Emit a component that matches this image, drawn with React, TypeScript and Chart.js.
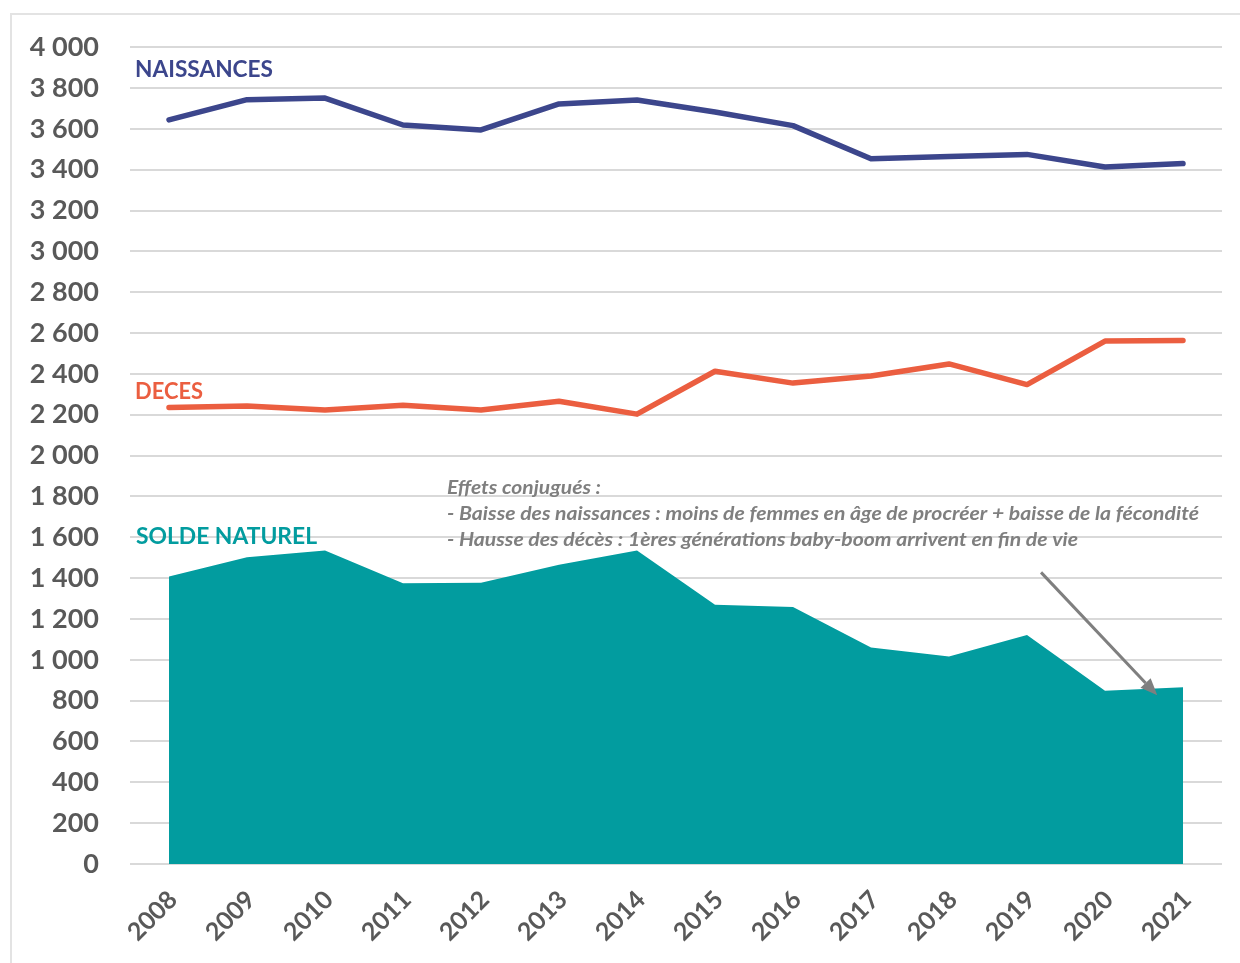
import React, { useEffect, useRef } from "react";
import { Chart, registerables } from "chart.js";

Chart.register(...registerables);

const years = ["2008", "2009", "2010", "2011", "2012", "2013", "2014", "2015", "2016", "2017", "2018", "2019", "2020", "2021"];
const naissances = [3644, 3743, 3751, 3619, 3595, 3722, 3741, 3683, 3616, 3454, 3465, 3475, 3413, 3430];
const deces = [2236, 2243, 2223, 2246, 2223, 2266, 2203, 2413, 2355, 2390, 2449, 2348, 2561, 2564];
const soldeNaturel = [1408, 1502, 1535, 1375, 1377, 1466, 1535, 1270, 1259, 1060, 1016, 1122, 849, 865];

const yMin = 0;
const yMax = 4000;
const yStep = 200;

const seriesNames = ["NAISSANCES", "DECES", "SOLDE NATUREL"];
const seriesLabelValues = [3888, 2313, 1604];
const noteLines = [
  "Effets conjugués :",
  "- Baisse des naissances : moins de femmes en âge de procréer + baisse de la fécondité",
  "- Hausse des décès : 1ères générations baby-boom arrivent en fin de vie",
];
const noteLineValues = [1843, 1716, 1589];
const arrowFrom = { index: 11.18, value: 1428 };
const arrowTo = { index: 12.67, value: 826 };

const COLORS = {
  naissances: "#3C468C",
  deces: "#EB5E40",
  solde: "#029C9F",
  grid: "#D9D9D9",
  tick: "#595959",
  note: "#7F7F7F",
};

function fitText(ctx: CanvasRenderingContext2D, text: string, x: number, y: number, width: number) {
  const w = ctx.measureText(text).width;
  ctx.save();
  ctx.translate(x, y);
  ctx.scale(width / w, 1);
  ctx.fillText(text, 0, 0);
  ctx.restore();
}

const annotationPlugin = {
  id: "annotations",
  afterDatasetsDraw(chart: any) {
    const { ctx, chartArea, scales } = chart;
    const xs = scales.x;
    const ys = scales.y;
    ctx.save();
    ctx.textBaseline = "middle";
    ctx.textAlign = "left";
    const labelColors = [COLORS.naissances, COLORS.deces, COLORS.solde];
    const labelWidths = [138, 68, 181];
    const labelOffsets = [5, 5, 6];
    ctx.font = "bold 22px Lato";
    seriesNames.forEach((name, i) => {
      ctx.fillStyle = labelColors[i];
      fitText(ctx, name, chartArea.left + labelOffsets[i], ys.getPixelForValue(seriesLabelValues[i]), labelWidths[i]);
    });
    ctx.font = "italic bold 19px Lato";
    ctx.fillStyle = COLORS.note;
    const noteWidths = [154, 752, 631];
    noteLines.forEach((line, i) => {
      fitText(ctx, line, chartArea.left + 317, ys.getPixelForValue(noteLineValues[i]), noteWidths[i]);
    });
    const x1 = xs.getPixelForValue(arrowFrom.index);
    const y1 = ys.getPixelForValue(arrowFrom.value);
    const x2 = xs.getPixelForValue(arrowTo.index);
    const y2 = ys.getPixelForValue(arrowTo.value);
    const ang = Math.atan2(y2 - y1, x2 - x1);
    const headLen = 17;
    const headHalf = 7;
    const bx = x2 - headLen * Math.cos(ang);
    const by = y2 - headLen * Math.sin(ang);
    ctx.strokeStyle = COLORS.note;
    ctx.lineWidth = 3;
    ctx.beginPath();
    ctx.moveTo(x1, y1);
    ctx.lineTo(bx, by);
    ctx.stroke();
    ctx.fillStyle = COLORS.note;
    ctx.beginPath();
    ctx.moveTo(x2, y2);
    ctx.lineTo(bx + headHalf * Math.sin(ang), by - headHalf * Math.cos(ang));
    ctx.lineTo(bx - headHalf * Math.sin(ang), by + headHalf * Math.cos(ang));
    ctx.closePath();
    ctx.fill();
    ctx.restore();
  },
};

function formatThousands(v: number) {
  return String(v).replace(/\B(?=(\d{3})+(?!\d))/g, " ");
}

export default function App() {
  const canvasRef = useRef<HTMLCanvasElement | null>(null);

  useEffect(() => {
    if (!canvasRef.current) return;
    const chart = new Chart(canvasRef.current, {
      type: "line",
      data: {
        labels: years,
        datasets: [
          {
            label: seriesNames[0],
            data: naissances,
            borderColor: COLORS.naissances,
            borderWidth: 5.5,
            pointRadius: 0,
            borderCapStyle: "round",
            borderJoinStyle: "round",
            fill: false,
            tension: 0,
            order: 1,
          },
          {
            label: seriesNames[1],
            data: deces,
            borderColor: COLORS.deces,
            borderWidth: 5.5,
            pointRadius: 0,
            borderCapStyle: "round",
            borderJoinStyle: "round",
            fill: false,
            tension: 0,
            order: 2,
          },
          {
            label: seriesNames[2],
            data: soldeNaturel,
            borderColor: COLORS.solde,
            backgroundColor: COLORS.solde,
            borderWidth: 0,
            pointRadius: 0,
            fill: "origin",
            tension: 0,
            order: 3,
          },
        ],
      },
      options: {
        animation: false,
        responsive: false,
        maintainAspectRatio: false,
        layout: { padding: { left: 10, right: 18, top: 46, bottom: 0 } },
        plugins: {
          legend: { display: false },
          tooltip: { enabled: false },
        },
        scales: {
          x: {
            type: "category",
            offset: true,
            grid: { display: false, drawTicks: false },
            border: { display: false },
            ticks: {
              color: COLORS.tick,
              font: { family: "Lato", size: 25, weight: "bold" },
              maxRotation: 45,
              minRotation: 45,
              padding: 21,
              labelOffset: 4,
              autoSkip: false,
            },
            afterFit: (s: any) => {
              s.height = 99;
            },
          },
          y: {
            min: yMin,
            max: yMax,
            grid: { color: COLORS.grid, lineWidth: 2, drawTicks: false },
            border: { display: false },
            ticks: {
              stepSize: yStep,
              color: COLORS.tick,
              font: { family: "Lato", size: 27, weight: "bold" },
              padding: 31,
              callback: (v: any) => formatThousands(Number(v)),
            },
            afterFit: (s: any) => {
              s.width = 120;
            },
          },
        },
      },
      plugins: [annotationPlugin],
    });
    return () => chart.destroy();
  }, []);

  return (
    <div style={{ position: "absolute", left: 0, top: 0, width: 1240, height: 963, overflow: "hidden", background: "#fff" }}>
      <div
        style={{
          position: "absolute",
          left: 10,
          top: 13,
          width: 1260,
          height: 1000,
          border: "2px solid #E3E3E3",
          boxSizing: "border-box",
        }}
      />
      <canvas ref={canvasRef} width={1240} height={963} style={{ position: "absolute", left: 0, top: 0, width: 1240, height: 963 }} />
    </div>
  );
}
